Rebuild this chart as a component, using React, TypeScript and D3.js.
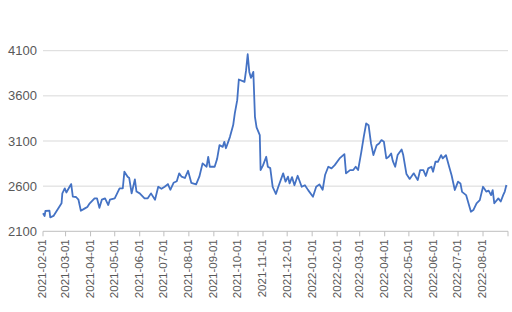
import React from "react";
import * as d3 from "d3";

const dates: string[] = [
  "2021-02-01","2021-02-03","2021-02-04","2021-02-09","2021-02-10","2021-02-14","2021-02-24","2021-02-25","2021-02-28","2021-03-02",
  "2021-03-06","2021-03-08","2021-03-10","2021-03-14","2021-03-17","2021-03-20","2021-03-25","2021-03-28","2021-03-31","2021-04-06",
  "2021-04-09","2021-04-12","2021-04-15","2021-04-19","2021-04-23","2021-04-25","2021-05-01","2021-05-07","2021-05-11","2021-05-13",
  "2021-05-17","2021-05-19","2021-05-22","2021-05-26","2021-05-28","2021-06-01","2021-06-07","2021-06-11","2021-06-15","2021-06-20",
  "2021-06-24","2021-06-28","2021-07-02","2021-07-06","2021-07-09","2021-07-13","2021-07-17","2021-07-20","2021-07-23","2021-07-27",
  "2021-07-31","2021-08-04","2021-08-10","2021-08-14","2021-08-18","2021-08-23","2021-08-25","2021-08-27","2021-09-02","2021-09-05",
  "2021-09-08","2021-09-12","2021-09-14","2021-09-16","2021-09-21","2021-09-25","2021-09-27","2021-09-30","2021-10-02","2021-10-09",
  "2021-10-11","2021-10-13","2021-10-15","2021-10-17","2021-10-20","2021-10-22","2021-10-24","2021-10-28","2021-10-29","2021-11-01",
  "2021-11-05","2021-11-07","2021-11-10","2021-11-13","2021-11-17","2021-11-20","2021-11-26","2021-11-29","2021-12-02","2021-12-04",
  "2021-12-07","2021-12-10","2021-12-14","2021-12-19","2021-12-23","2021-12-27","2022-01-02","2022-01-06","2022-01-10","2022-01-14",
  "2022-01-17","2022-01-21","2022-01-25","2022-01-29","2022-02-04","2022-02-10","2022-02-12","2022-02-17","2022-02-21","2022-02-24",
  "2022-02-27","2022-03-03","2022-03-06","2022-03-09","2022-03-12","2022-03-15","2022-03-18","2022-03-22","2022-03-25","2022-03-28",
  "2022-03-31","2022-04-03","2022-04-06","2022-04-09","2022-04-11","2022-04-14","2022-04-17","2022-04-22","2022-04-24","2022-04-28",
  "2022-05-02","2022-05-07","2022-05-12","2022-05-15","2022-05-19","2022-05-22","2022-05-25","2022-05-29","2022-05-31","2022-06-03",
  "2022-06-06","2022-06-10","2022-06-12","2022-06-16","2022-06-20","2022-06-23","2022-06-27","2022-07-01","2022-07-04","2022-07-06",
  "2022-07-11","2022-07-17","2022-07-20","2022-07-24","2022-07-28","2022-08-01","2022-08-05","2022-08-08","2022-08-11","2022-08-13",
  "2022-08-15","2022-08-20","2022-08-23","2022-08-26","2022-08-28","2022-08-30"
];

const values: number[] = [
  2299,2269,2325,2330,2255,2270,2410,2520,2575,2530,
  2593,2623,2483,2480,2450,2328,2354,2370,2410,2465,
  2465,2360,2450,2465,2391,2450,2465,2575,2575,2760,
  2704,2690,2520,2675,2540,2520,2465,2465,2520,2450,
  2593,2570,2593,2623,2560,2637,2655,2742,2705,2690,
  2770,2637,2620,2705,2852,2815,2925,2815,2815,2900,
  3054,3035,3091,3020,3146,3276,3405,3552,3781,3755,
  3884,4061,3865,3800,3865,3368,3250,3165,2778,2830,
  2925,2815,2800,2593,2513,2593,2742,2650,2705,2630,
  2700,2610,2715,2593,2610,2556,2483,2593,2620,2560,
  2723,2815,2797,2833,2907,2955,2742,2778,2778,2815,
  2778,2980,3146,3294,3275,3073,2944,3054,3073,3110,
  3092,2907,2925,2962,2880,2815,2944,3007,2944,2734,
  2680,2742,2667,2778,2778,2712,2797,2815,2760,2870,
  2870,2944,2907,2944,2815,2720,2557,2650,2630,2537,
  2501,2317,2335,2410,2445,2593,2540,2550,2500,2556,
  2410,2465,2430,2500,2540,2612
];

const yTicks: number[] = [2100, 2600, 3100, 3600, 4100];

const xTickLabels: string[] = [
  "2021-02-01","2021-03-01","2021-04-01","2021-05-01","2021-06-01","2021-07-01",
  "2021-08-01","2021-09-01","2021-10-01","2021-11-01","2021-12-01","2022-01-01",
  "2022-02-01","2022-03-01","2022-04-01","2022-05-01","2022-06-01","2022-07-01","2022-08-01"
];

const parse = d3.utcParse("%Y-%m-%d");

export default function App() {
  const W = 512, H = 312;
  const left = 43, right = 508, top = 50.7, bottom = 231.3;
  const x = d3.scaleUtc()
    .domain([parse("2021-02-01") as Date, parse("2022-09-01") as Date])
    .range([left, right]);
  const y = d3.scaleLinear().domain([2100, 4100]).range([bottom, top]);
  const pts = dates.map((d, i) => ({ d: parse(d) as Date, v: values[i] }));
  const line = d3.line<{ d: Date; v: number }>()
    .x(p => x(p.d))
    .y(p => y(p.v));
  const textColor = "#595959";
  return (
    <svg width={W} height={H} style={{ position: "absolute", left: 0, top: 0, background: "#fff" }}
      fontFamily="'Liberation Sans', Arial, sans-serif">
      {yTicks.map(t => (
        <g key={t}>
          {t !== 2100 && (
            <line x1={left} x2={right} y1={y(t)} y2={y(t)} stroke="#d9d9d9" strokeWidth={1} />
          )}
          <text x={37} y={y(t)} dy="0.35em" textAnchor="end" fontSize={13} fill={textColor}>{t}</text>
        </g>
      ))}
      <line x1={left} x2={right} y1={y(2100)} y2={y(2100)} stroke="#bfbfbf" strokeWidth={1} />
      {xTickLabels.map(l => {
        const tx = x(parse(l) as Date);
        return (
          <g key={l}>
            <line x1={tx} x2={tx} y1={y(2100)} y2={y(2100) + 5} stroke="#bfbfbf" strokeWidth={1} />
            <text transform={`translate(${tx},${y(2100) + 8}) rotate(-90)`} dy="0.3em" textAnchor="end"
              fontSize={11.5} fill={textColor}>{l}</text>
          </g>
        );
      })}
      <line x1={right} x2={right} y1={y(2100)} y2={y(2100) + 5} stroke="#bfbfbf" strokeWidth={1} />
      <path d={line(pts) || ""} fill="none" stroke="#4472c4" strokeWidth={1.8} strokeLinejoin="round" />
    </svg>
  );
}
